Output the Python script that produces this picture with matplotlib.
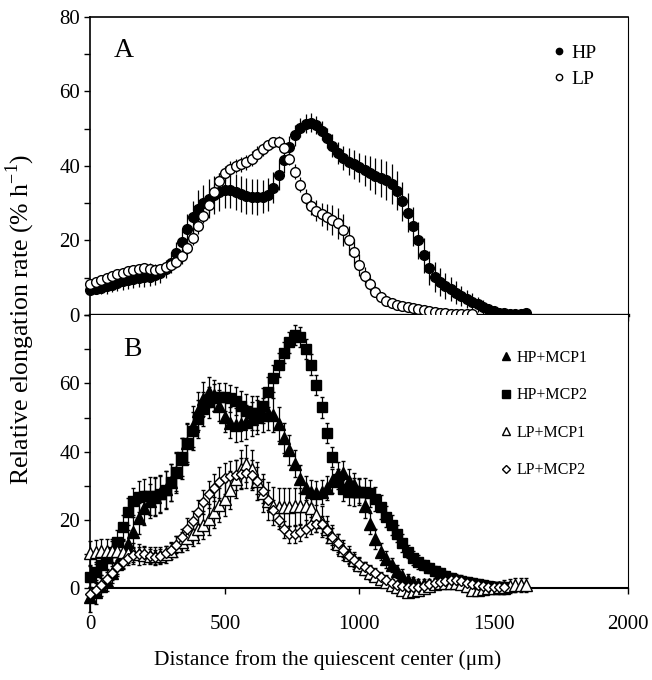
import numpy as np
import matplotlib
matplotlib.use("Agg")
import matplotlib.pyplot as plt
from matplotlib.ticker import MultipleLocator

plt.rcParams['font.family'] = ['Liberation Serif', 'DejaVu Serif']
plt.rcParams['mathtext.fontset'] = 'custom'
plt.rcParams['mathtext.rm'] = 'Liberation Serif'

STEP = 20  # sampling interval along the root (um)

# ---- panel A ----
hp = [6.8, 7.0, 7.3, 7.7, 8.1, 8.6, 9.0, 9.3, 9.6, 9.9,
      10.1, 10.3, 10.6, 11.2, 12.3, 14.0, 16.6, 19.7, 23.0, 26.2,
      28.5, 30.0, 31.2, 32.2, 33.0, 33.6, 33.5, 33.0, 32.4, 32.0,
      31.8, 31.7, 31.8, 32.3, 34.2, 37.5, 41.5, 45.0, 48.3, 50.3,
      51.4, 51.6, 51.0, 49.5, 47.5, 45.5, 43.5, 42.2, 41.2, 40.4,
      39.6, 38.8, 38.1, 37.4, 36.8, 36.2, 35.2, 33.4, 30.5, 27.5,
      23.8, 20.0, 16.0, 12.6, 10.2, 8.8, 7.8, 6.9, 6.0, 5.1,
      4.3, 3.6, 2.9, 2.1, 1.5, 1.0, 0.6, 0.4, 0.3, 0.3,
      0.3, 0.4]
hp_err = [1.5, 1.5, 1.8, 2.0, 2.0, 2.2, 2.2, 2.3, 2.4, 2.5,
          2.5, 2.5, 2.5, 2.5, 2.5, 2.8, 3.0, 3.5, 4.0, 4.5,
          5.0, 5.0, 5.2, 5.2, 5.0, 4.8, 4.8, 4.8, 4.8, 4.8,
          4.8, 4.8, 4.5, 4.5, 4.2, 4.0, 3.5, 3.0, 2.8, 2.5,
          2.5, 2.5, 2.5, 2.5, 2.8, 3.0, 3.0, 3.2, 3.5, 3.8,
          4.0, 4.2, 4.5, 4.8, 5.0, 5.2, 5.3, 5.3, 5.3, 5.3,
          5.2, 5.0, 4.8, 4.5, 4.0, 3.8, 3.5, 3.2, 3.0, 2.8,
          2.5, 2.2, 2.0, 1.8, 1.5, 1.2, 1.0, 0.8, 0.6, 0.5,
          0.5, 0.5]
lp = [8.3, 8.8, 9.5, 10.0, 10.5, 11.0, 11.4, 11.7, 12.0, 12.3,
      12.5, 12.4, 12.2, 12.3, 12.8, 13.3, 14.3, 15.8, 18.0, 20.8,
      23.8, 26.7, 29.5, 33.0, 36.0, 38.0, 39.3, 40.0, 40.5, 41.0,
      42.0, 43.3, 44.5, 45.6, 46.4, 46.5, 44.8, 42.0, 38.5, 35.0,
      31.5, 29.3, 28.0, 27.0, 26.2, 25.6, 24.6, 22.8, 20.0, 16.8,
      13.5, 10.5, 8.3, 6.3, 4.8, 3.8, 3.2, 2.8, 2.5, 2.2,
      2.0, 1.7, 1.4, 1.1, 0.8, 0.6, 0.4, 0.3, 0.3, 0.3,
      0.3, 0.3]
lp_err = [1.0, 1.0, 1.0, 1.2, 1.2, 1.2, 1.3, 1.3, 1.4, 1.4,
          1.5, 1.5, 1.5, 1.5, 1.5, 1.6, 1.8, 2.0, 2.0, 2.0,
          2.0, 2.0, 2.0, 2.0, 2.0, 2.0, 2.0, 2.0, 2.0, 2.0,
          2.0, 2.0, 1.8, 1.5, 1.5, 1.5, 1.5, 1.8, 2.0, 2.0,
          2.2, 2.5, 2.8, 3.0, 3.5, 4.0, 4.2, 4.2, 4.0, 3.5,
          3.0, 2.5, 2.0, 1.5, 1.2, 1.0, 1.0, 0.8, 0.8, 0.8,
          0.7, 0.6, 0.5, 0.5, 0.4, 0.4, 0.3, 0.3, 0.3, 0.3,
          0.3, 0.3]

# ---- panel B ----
hp_mcp1 = [-2.5, -1.0, 0.8, 2.3, 4.5, 7.2, 10.0, 13.0, 16.5, 20.5,
           23.5, 25.5, 26.8, 27.8, 29.0, 31.0, 34.0, 38.0, 42.5, 47.5,
           52.0, 55.5, 57.5, 56.5, 53.5, 50.2, 48.5, 47.8, 48.0, 48.6,
           49.5, 50.2, 50.8, 51.3, 50.8, 48.0, 44.0, 40.5, 36.5, 32.0,
           29.5, 28.3, 28.0, 28.3, 29.3, 31.5, 33.5, 33.8, 31.5, 30.3,
           28.5, 24.0, 19.0, 14.5, 10.8, 8.5, 6.8, 5.0, 3.6, 2.6,
           1.8, 1.4, 1.2, 1.3, 1.6, 1.9, 2.2, 2.3, 2.2, 2.0,
           1.7, 1.4, 1.1, 0.8, 0.5, 0.3, 0.2, 0.2]
hp_mcp1_err = [4.5, 3.5, 3.0, 3.0, 3.0, 3.5, 4.0, 4.0, 4.5, 4.5,
               5.0, 5.0, 5.5, 5.5, 5.5, 5.5, 6.0, 6.0, 6.0, 6.0,
               5.5, 5.0, 4.5, 4.5, 4.5, 4.5, 4.5, 5.0, 5.0, 5.0,
               5.0, 5.0, 5.0, 5.0, 5.0, 5.0, 4.5, 4.5, 4.0, 4.0,
               3.5, 3.5, 3.5, 3.5, 3.5, 3.5, 3.5, 3.5, 3.5, 3.5,
               3.5, 3.5, 3.0, 3.0, 2.5, 2.5, 2.0, 2.0, 2.0, 1.5,
               1.5, 1.5, 1.5, 1.5, 1.5, 1.5, 1.5, 1.5, 1.5, 1.5,
               1.5, 1.5, 1.5, 1.5, 1.5, 1.5, 1.5, 1.5]
hp_mcp2 = [3.5, 4.8, 6.8, 8.8, 10.8, 13.5, 18.0, 22.5, 25.5, 26.8,
           27.0, 27.0, 27.0, 27.5, 28.8, 31.0, 34.0, 38.5, 42.5, 46.0,
           49.5, 52.5, 54.5, 55.8, 56.0, 56.0, 55.6, 54.8, 53.3, 52.0,
           51.3, 51.3, 53.5, 57.5, 61.5, 65.5, 69.0, 72.0, 74.2, 73.5,
           70.0, 65.5, 59.5, 53.0, 45.5, 38.5, 32.0, 29.0, 28.3, 28.2,
           28.3, 28.3, 27.8, 26.3, 23.8, 21.0, 18.5, 16.0, 13.3, 10.8,
           9.0, 7.8, 6.8, 6.0, 5.2, 4.4, 3.6, 3.0, 2.6, 2.3,
           2.0, 1.7, 1.3, 1.0, 0.7, 0.5, 0.4, 0.4]
hp_mcp2_err = [3.0, 3.0, 3.0, 3.0, 3.0, 3.5, 3.5, 4.0, 4.0, 4.5,
               5.0, 5.5, 5.5, 5.5, 5.5, 5.5, 5.5, 5.5, 5.5, 5.5,
               5.5, 5.0, 4.5, 4.0, 4.0, 4.0, 4.0, 4.0, 4.5, 5.0,
               5.0, 5.0, 5.0, 4.5, 4.0, 3.5, 3.0, 3.0, 3.0, 3.0,
               3.0, 3.0, 3.0, 3.0, 3.0, 3.0, 3.0, 3.5, 4.0, 4.0,
               4.0, 4.0, 4.0, 3.5, 3.5, 3.0, 3.0, 2.5, 2.5, 2.0,
               2.0, 2.0, 1.5, 1.5, 1.5, 1.5, 1.5, 1.5, 1.5, 1.5,
               1.5, 1.5, 1.5, 1.5, 1.5, 1.5, 1.5, 1.5]
lp_mcp1 = [10.5, 10.8, 11.0, 11.0, 11.0, 11.0, 10.8, 10.5, 10.3, 10.0,
           9.8, 9.6, 9.5, 9.6, 10.0, 11.0, 12.3, 13.6, 14.8, 16.0,
           17.3, 18.6, 20.2, 22.3, 24.3, 26.2, 28.8, 32.0, 35.0, 36.5,
           35.0, 31.5, 28.0, 25.5, 24.2, 23.8, 23.8, 23.8, 24.0, 24.0,
           24.0, 23.5, 21.5, 19.5, 17.3, 15.0, 13.0, 11.3, 9.8, 8.3,
           7.0, 5.8, 4.6, 3.6, 2.7, 1.8, 1.0, 0.3, -0.5, -0.9,
           -0.8, -0.4, 0.2, 0.8, 1.3, 1.6, 1.7, 1.7, 1.6, 1.3,
           0.6, -0.3, -0.4, -0.2, 0.0, 0.2, 0.3, 0.5, 0.8, 1.0,
           1.0, 1.0]
lp_mcp1_err = [3.5, 3.5, 3.5, 3.5, 3.5, 3.5, 3.5, 3.0, 3.0, 3.0,
               2.5, 2.5, 2.5, 2.5, 2.5, 2.5, 3.0, 3.0, 3.5, 3.5,
               4.0, 4.0, 4.5, 4.5, 5.0, 5.0, 5.5, 5.5, 5.5, 5.5,
               5.5, 5.5, 5.5, 5.5, 5.5, 5.5, 5.5, 5.5, 5.5, 5.5,
               5.5, 5.0, 5.0, 4.5, 4.0, 3.5, 3.0, 3.0, 2.5, 2.5,
               2.0, 2.0, 2.0, 1.5, 1.5, 1.5, 1.5, 1.5, 1.5, 1.5,
               1.5, 1.5, 1.5, 1.5, 1.5, 1.5, 1.5, 1.5, 1.5, 1.5,
               1.5, 1.5, 1.5, 1.5, 1.5, 1.5, 1.5, 2.0, 2.0, 2.0,
               2.0, 2.0]
lp_mcp2 = [-1.5, -0.5, 1.0, 2.8, 4.5, 6.2, 7.6, 8.8, 9.8, 10.2,
           10.0, 9.5, 9.2, 9.5, 10.3, 11.3, 12.8, 15.0, 17.5, 19.8,
           22.5, 25.2, 27.5, 29.5, 31.0, 32.2, 32.8, 33.2, 33.6, 33.8,
           33.2, 31.5, 28.5, 25.9, 23.0, 20.0, 17.3, 15.8, 15.8, 16.4,
           17.5, 18.5, 19.0, 18.8, 17.2, 15.2, 13.3, 11.3, 9.5, 8.2,
           7.1, 6.2, 5.3, 4.4, 3.4, 2.5, 1.7, 1.0, 0.6, 0.4,
           0.4, 0.5, 0.8, 1.2, 1.6, 2.0, 2.3, 2.5, 2.4, 2.1,
           1.7, 1.3, 1.0, 0.7, 0.5, 0.5, 0.5, 0.5]
lp_mcp2_err = [2.0, 2.0, 2.0, 2.0, 2.0, 2.0, 2.0, 2.0, 2.0, 2.0,
               2.0, 2.0, 2.0, 2.0, 2.0, 2.0, 2.5, 2.5, 3.0, 3.0,
               3.5, 3.5, 4.0, 4.0, 4.5, 4.5, 4.5, 4.5, 4.5, 4.5,
               4.5, 4.0, 3.5, 3.0, 3.0, 2.5, 2.5, 2.5, 2.5, 2.5,
               2.5, 2.5, 2.5, 2.5, 2.5, 2.5, 2.5, 2.0, 2.0, 2.0,
               2.0, 1.5, 1.5, 1.5, 1.5, 1.5, 1.0, 1.0, 1.0, 1.0,
               1.0, 1.0, 1.0, 1.0, 1.0, 1.0, 1.0, 1.0, 1.0, 1.0,
               1.0, 1.0, 1.0, 1.0, 1.0, 1.0, 1.0, 1.0]

labels_a = ['HP', 'LP']
labels_b = ['HP+MCP1', 'HP+MCP2', 'LP+MCP1', 'LP+MCP2']


def dist(vals):
    return np.arange(len(vals)) * STEP


def draw(ax, y, err, marker, ms, filled, capsize=0):
    fc = 'black' if filled else 'white'
    c = ax.errorbar(dist(y), y, yerr=err, fmt=marker, ms=ms, mfc=fc, mec='black',
                    mew=1.0, ecolor='black', elinewidth=0.9, capsize=capsize,
                    zorder=3)
    for art in c.get_children():
        art.set_clip_on(False)
    return c[0]


fig = plt.figure(figsize=(6.52, 6.8), dpi=100)
ax_a = fig.add_axes([0.1388, 0.5368, 0.8244, 0.4382])
ax_b = fig.add_axes([0.1388, 0.0994, 0.8244, 0.4374])

# panel A
h1 = draw(ax_a, hp, hp_err, 'o', 7, True)
h2 = draw(ax_a, lp, lp_err, 'o', 7, False)
ax_a.set_xlim(0, 2000)
ax_a.set_ylim(0, 80)
ax_a.yaxis.set_major_locator(MultipleLocator(20))
ax_a.yaxis.set_minor_locator(MultipleLocator(10))
ax_a.set_xticks([0, 500, 1000, 1500, 2000])
ax_a.tick_params(axis='x', labelbottom=False, direction='out', length=4, width=1)
ax_a.tick_params(axis='y', which='both', direction='out', length=4, width=1, labelsize=15)
ax_a.spines['bottom'].set_linewidth(2.4)
ax_a.spines['top'].set_linewidth(1.2)
ax_a.spines['left'].set_linewidth(1.2)
ax_a.spines['right'].set_linewidth(0.8)
ax_a.text(0.043, 0.93, 'A', transform=ax_a.transAxes, fontsize=20, va='top')
ax_a.legend([h1, h2], labels_a, loc='upper right', frameon=False, fontsize=14,
            handlelength=0.6, handletextpad=0.3, labelspacing=0.45,
            markerscale=0.65, bbox_to_anchor=(0.955, 0.935), borderaxespad=0)

# panel B
g1 = draw(ax_b, hp_mcp1, hp_mcp1_err, '^', 8, True, 1.5)
g2 = draw(ax_b, hp_mcp2, hp_mcp2_err, 's', 7, True, 1.5)
g3 = draw(ax_b, lp_mcp1, lp_mcp1_err, '^', 8, False, 1.5)
g4 = draw(ax_b, lp_mcp2, lp_mcp2_err, 'D', 5, False, 1.5)
ax_b.set_xlim(0, 2000)
ax_b.set_ylim(-7, 80)
ax_b.set_yticks([0, 20, 40, 60])
ax_b.yaxis.set_minor_locator(MultipleLocator(10))
ax_b.set_xticks([0, 500, 1000, 1500, 2000])
ax_b.spines['top'].set_visible(False)
ax_b.spines['bottom'].set_position(('data', 0))
ax_b.spines['bottom'].set_linewidth(1.5)
ax_b.spines['left'].set_linewidth(1.2)
ax_b.spines['right'].set_linewidth(0.8)
ax_b.spines['right'].set_bounds(0, 80)
ax_b.tick_params(axis='x', direction='out', length=4, width=1, pad=15, labelsize=15)
ax_b.tick_params(axis='y', which='both', direction='out', length=4, width=1, labelsize=15)
ax_b.text(0.06, 0.925, 'B', transform=ax_b.transAxes, fontsize=20, va='top')
ax_b.legend([g1, g2, g3, g4], labels_b, loc='upper right', frameon=False, fontsize=11.5,
            handlelength=0.6, handletextpad=0.4, labelspacing=1.35,
            markerscale=0.75, bbox_to_anchor=(0.937, 0.905), borderaxespad=0)

fig.text(0.031, 0.53, 'Relative elongation rate (% h$^{\\mathregular{-1}}$)',
         rotation=90, ha='center', va='center', fontsize=18.5)
fig.text(0.502, 0.029, 'Distance from the quiescent center (\u03bcm)',
         ha='center', va='center', fontsize=15.5)

fig.savefig('out.png', dpi=100)
